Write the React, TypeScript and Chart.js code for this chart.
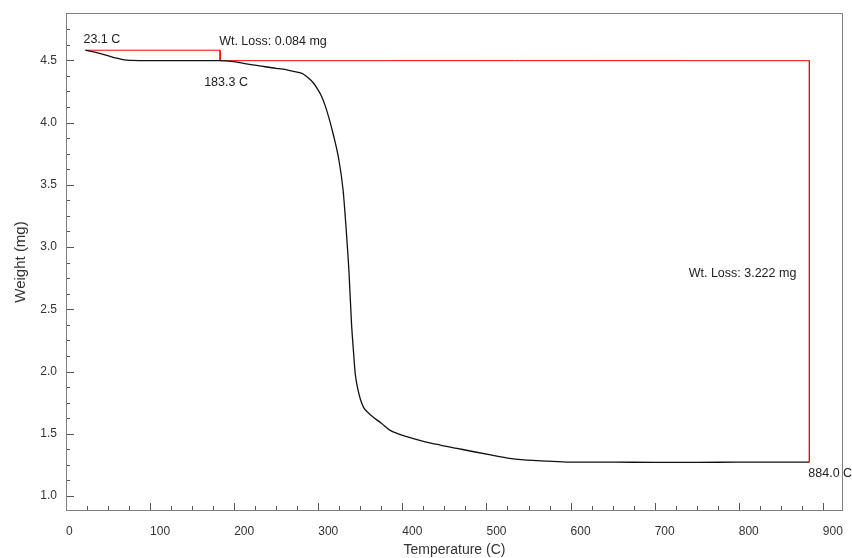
import React, { useEffect, useRef } from 'react';
import { Chart, registerables } from 'chart.js';

Chart.register(...registerables);

// Black TGA curve: temperature (C) and weight (mg)
const tempC = [
  23.1, 30, 40, 56, 72, 100, 150, 183.3, 199, 222, 250, 265, 275, 282, 288, 294, 299, 304, 308, 313,
  318, 324, 329.5, 333.5, 336.6, 339.5, 342, 344, 347, 350, 354, 360, 367, 375, 385, 395, 405, 425,
  445, 465, 485, 505, 525, 545, 565, 585, 605, 650, 700, 750, 800, 850, 884,
];
const weightMg = [
  4.581, 4.572, 4.556, 4.524, 4.502, 4.498, 4.497, 4.497, 4.489, 4.463, 4.436, 4.42, 4.405, 4.39,
  4.36, 4.32, 4.27, 4.21, 4.14, 4.03, 3.9, 3.72, 3.458, 3.111, 2.79, 2.389, 2.15, 1.98, 1.86, 1.78,
  1.71, 1.665, 1.625, 1.585, 1.53, 1.5, 1.477, 1.44, 1.41, 1.383, 1.356, 1.33, 1.305, 1.29, 1.283,
  1.277, 1.272, 1.272, 1.271, 1.271, 1.272, 1.272, 1.273,
];

// Red weight-loss step marker
const stepTemp = [23.1, 183.3, 183.3, 884.0, 884.0];
const stepWeight = [4.581, 4.581, 4.497, 4.497, 1.275];

// Axis ticks
const xTickValues = [0, 100, 200, 300, 400, 500, 600, 700, 800, 900];
const yTickValues = [1.0, 1.5, 2.0, 2.5, 3.0, 3.5, 4.0, 4.5];
const xMinorStep = 25;
const yMinorStep = 0.125;

// Annotation labels
const labelStartTemp = '23.1 C';
const labelLoss1 = 'Wt. Loss: 0.084 mg';
const labelOnsetTemp = '183.3 C';
const labelLoss2 = 'Wt. Loss: 3.222 mg';
const labelEndTemp = '884.0 C';

const FONT = "'Liberation Sans', Arial, sans-serif";

const framePlugin = {
  id: 'tgaFrame',
  afterDraw(chart: any) {
    const { ctx, chartArea: a, scales } = chart;
    const x = scales.x;
    const y = scales.y;
    ctx.save();
    // inward ticks
    ctx.strokeStyle = '#555555';
    ctx.lineWidth = 1;
    ctx.beginPath();
    for (let v = 0; v <= 900 + 1e-6; v += xMinorStep) {
      const px = Math.round(x.getPixelForValue(v)) + 0.5;
      const len = Math.abs(v % 100) < 1e-6 ? 8 : 5;
      ctx.moveTo(px, a.bottom);
      ctx.lineTo(px, a.bottom - len);
    }
    for (let v = 1.0; v <= 4.75 + 1e-6; v += yMinorStep) {
      const py = Math.round(y.getPixelForValue(v)) + 0.5;
      const major = Math.abs(v * 2 - Math.round(v * 2)) < 1e-6;
      const len = major ? 8 : 4;
      ctx.moveTo(a.left, py);
      ctx.lineTo(a.left + len, py);
    }
    ctx.stroke();

    // frame
    ctx.strokeStyle = '#808080';
    ctx.strokeRect(a.left + 0.5, a.top + 0.5, a.right - a.left - 1, a.bottom - a.top - 1);

    // annotations
    ctx.fillStyle = '#222222';
    ctx.font = `12.5px ${FONT}`;
    ctx.textBaseline = 'alphabetic';
    const p = (t: number, w: number) => [x.getPixelForValue(t), y.getPixelForValue(w)];

    let [ax, ay] = p(stepTemp[0], stepWeight[0]);
    ctx.textAlign = 'left';
    ctx.fillText(labelStartTemp, ax - 2, ay - 7);

    [ax, ay] = p(stepTemp[1], stepWeight[1]);
    ctx.fillText(labelLoss1, ax - 1, ay - 5);

    [ax, ay] = p(stepTemp[2], stepWeight[2]);
    ctx.fillText(labelOnsetTemp, ax - 16, ay + 25);

    const [bx, by1] = p(stepTemp[3], stepWeight[3]);
    const [, by2] = p(stepTemp[4], stepWeight[4]);
    ctx.textAlign = 'right';
    ctx.fillText(labelLoss2, bx - 13, (by1 + by2) / 2 + 16);

    ctx.textAlign = 'left';
    ctx.fillText(labelEndTemp, bx - 1, by2 + 15);
    ctx.restore();
  },
};

export default function App() {
  const ref = useRef<HTMLCanvasElement | null>(null);

  useEffect(() => {
    if (!ref.current) return;
    const chart = new Chart(ref.current, {
      type: 'line',
      data: {
        datasets: [
          {
            label: 'Weight',
            data: tempC.map((t, i) => ({ x: t, y: weightMg[i] })),
            borderColor: '#111111',
            borderWidth: 1.3,
            pointRadius: 0,
            cubicInterpolationMode: 'monotone',
            fill: false,
          },
          {
            label: 'Step',
            data: stepTemp.map((t, i) => ({ x: t, y: stepWeight[i] })),
            borderColor: '#ff0000',
            borderWidth: 1,
            pointRadius: 0,
            tension: 0,
            fill: false,
          },
        ],
      },
      options: {
        responsive: false,
        animation: false,
        events: [],
        layout: { padding: { top: 13, right: 9, left: 0, bottom: 0 } },
        plugins: { legend: { display: false }, tooltip: { enabled: false }, title: { display: false } },
        scales: {
          x: {
            type: 'linear',
            min: 0,
            max: 924,
            afterBuildTicks: (s: any) => {
              s.ticks = xTickValues.map((v) => ({ value: v }));
            },
            afterFit: (s: any) => {
              s.height = 47;
              s.paddingLeft = 0;
              s.paddingRight = 0;
            },
            grid: { display: false, drawTicks: false },
            border: { display: false },
            ticks: {
              align: 'start',
              padding: 13,
              maxRotation: 0,
              autoSkip: false,
              color: '#333333',
              font: { family: FONT, size: 12 },
              callback: (v: any) => String(v),
            },
            title: {
              display: true,
              text: 'Temperature (C)',
              color: '#333333',
              font: { family: FONT, size: 14, lineHeight: 1 },
              padding: { top: 0, bottom: 1 },
            },
          },
          y: {
            type: 'linear',
            min: 0.88,
            max: 4.88,
            afterBuildTicks: (s: any) => {
              s.ticks = yTickValues.map((v) => ({ value: v }));
            },
            afterFit: (s: any) => {
              s.width = 66;
              s.paddingTop = 0;
              s.paddingBottom = 0;
            },
            grid: { display: false, drawTicks: false },
            border: { display: false },
            ticks: {
              padding: 9,
              autoSkip: false,
              color: '#333333',
              font: { family: FONT, size: 12 },
              callback: (v: any) => Number(v).toFixed(1),
            },
            title: {
              display: true,
              text: 'Weight (mg)',
              color: '#333333',
              font: { family: FONT, size: 15, lineHeight: 1.2 },
              padding: { top: 12, bottom: 0 },
            },
          },
        },
      },
      plugins: [framePlugin],
    } as any);
    return () => chart.destroy();
  }, []);

  return (
    <div style={{ position: 'absolute', left: 0, top: 0, width: 852, height: 558, background: '#ffffff' }}>
      <canvas ref={ref} width={852} height={558} style={{ display: 'block' }} />
    </div>
  );
}
